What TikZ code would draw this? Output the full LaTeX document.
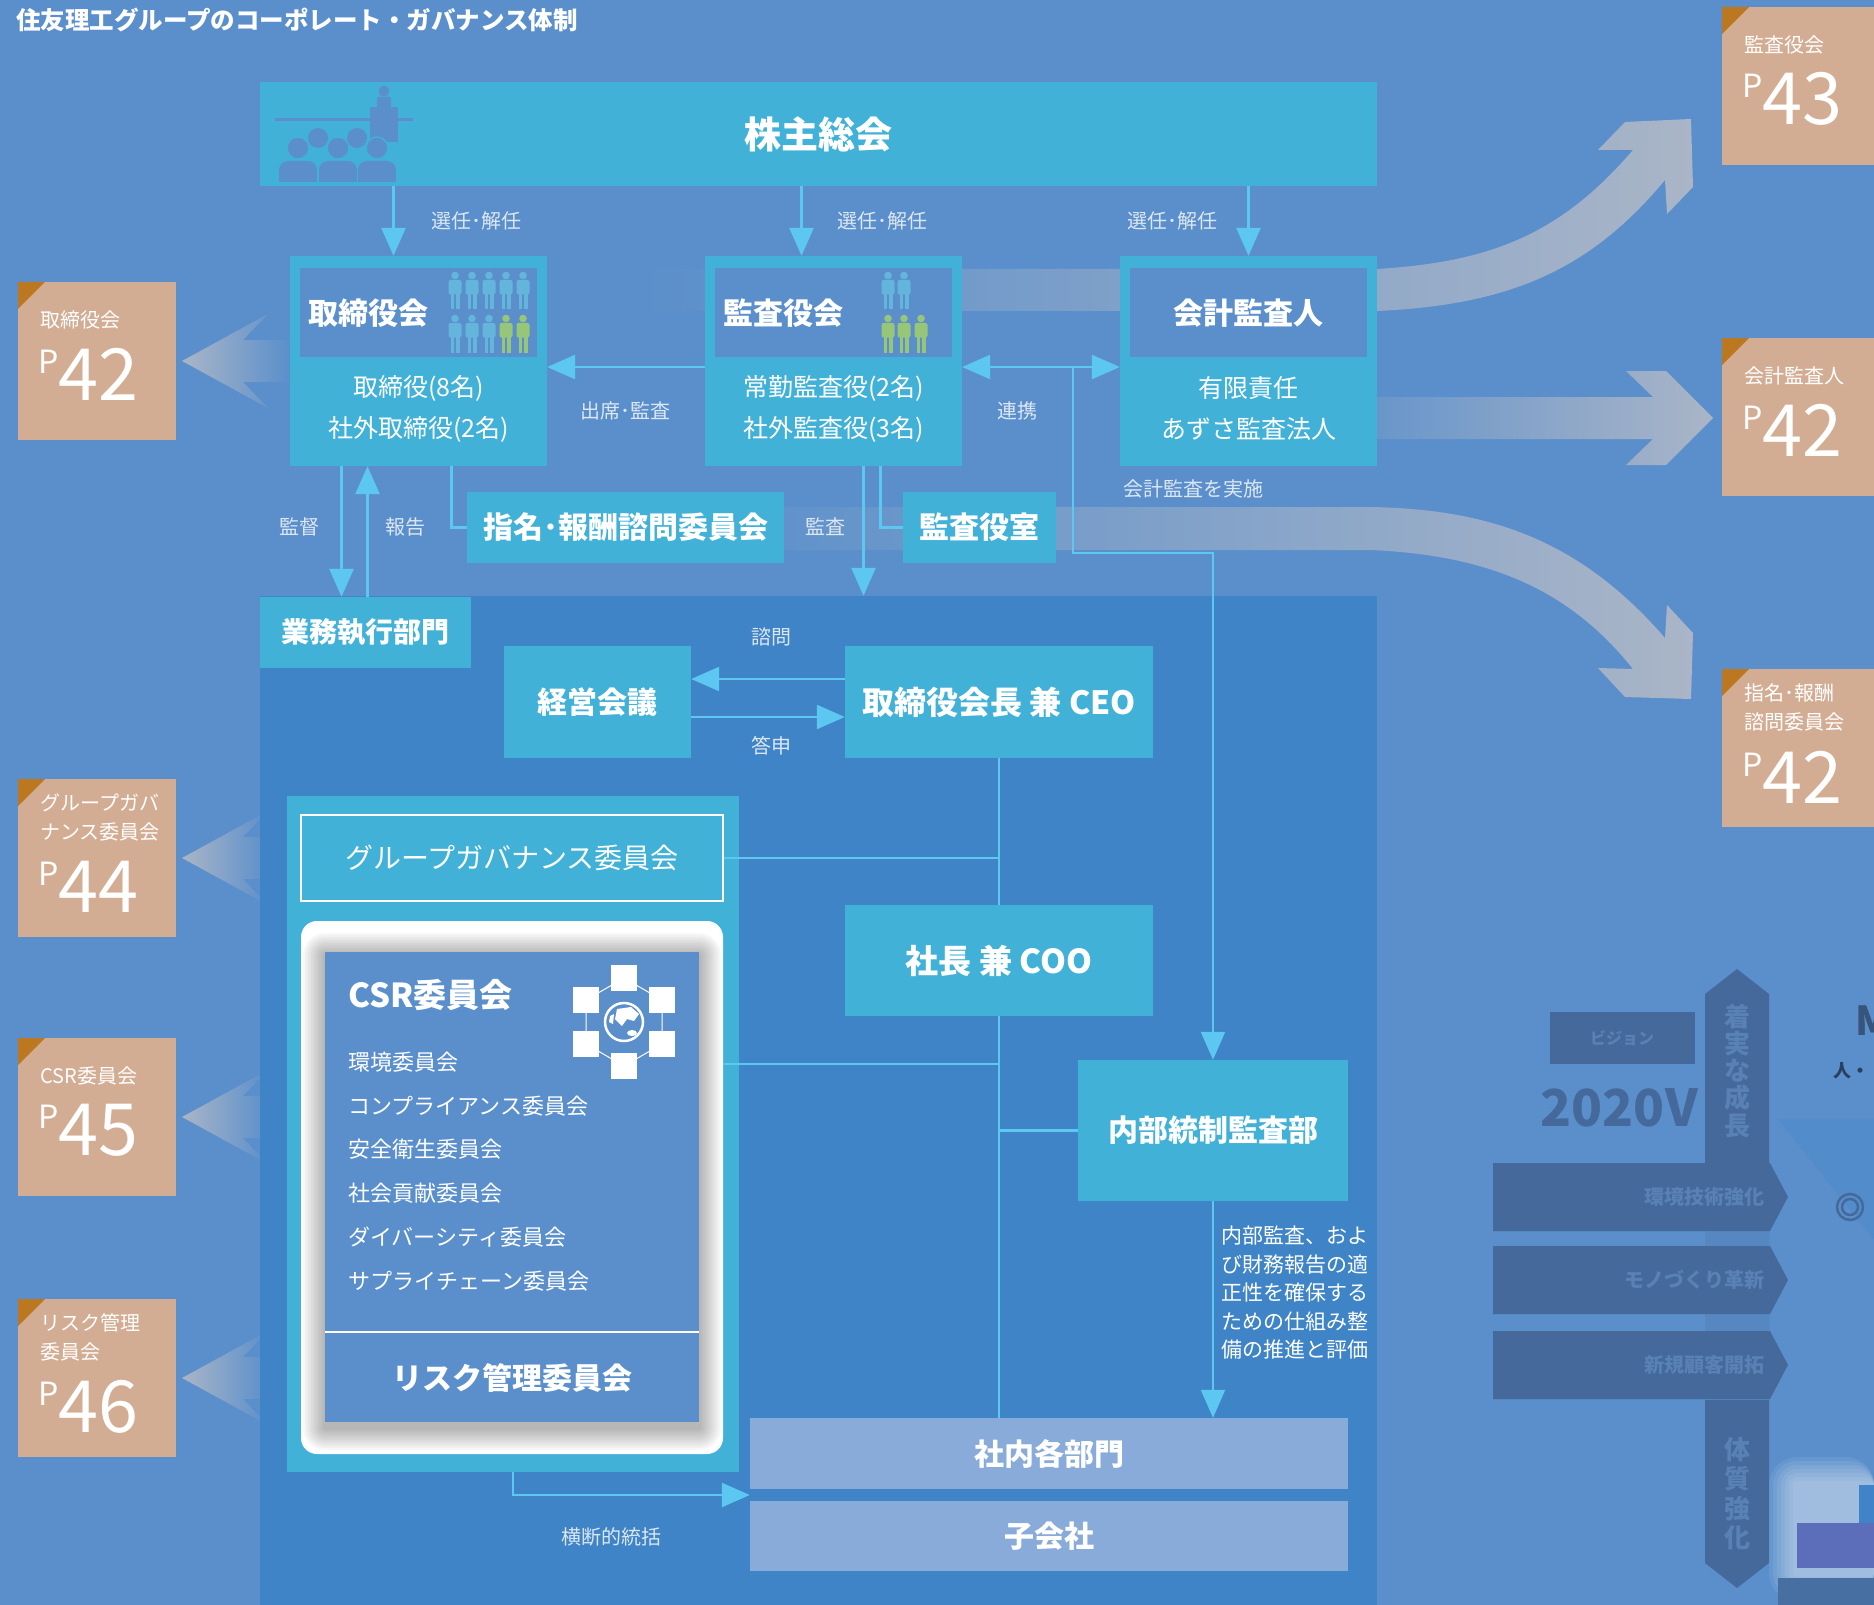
\documentclass[tikz,border=0pt]{standalone}
\usepackage{fontspec}
\setmainfont{Noto Sans CJK JP}
\usetikzlibrary{arrows.meta,calc}
\definecolor{grund}{HTML}{5A8FCB}
\definecolor{tuerkis}{HTML}{41B1D7}
\definecolor{bereich}{HTML}{3E84C6}
\definecolor{linie}{HTML}{5CC8F2}
\definecolor{schrift}{HTML}{DDE7F2}
\definecolor{hell}{HTML}{88ABD9}
\definecolor{sand}{HTML}{D3AD93}
\definecolor{ecke}{HTML}{BB7820}
\definecolor{band}{HTML}{AAB5C7}
\definecolor{figblau}{HTML}{63B5DB}
\definecolor{figgruen}{HTML}{98C679}
\definecolor{matt}{HTML}{45699B}
\definecolor{mattschrift}{HTML}{5A81B4}
\definecolor{lila}{HTML}{5C6EBA}
\newcommand\fsz[1]{\fontsize{#1}{#1}\selectfont}

\begin{document}
\begin{tikzpicture}[x=1pt,y=-1pt,
  box/.style={fill=tuerkis,text=white,inner sep=0pt,font=\fsz{30}\bfseries},
  kopf/.style={fill=grund,minimum width=237pt,minimum height=89pt,inner sep=0pt},
  zeile/.style={text=white,inner sep=0pt,font=\fsz{25}},
  marke/.style={text=schrift,inner sep=0pt,font=\fsz{20}},
  liste/.style={text=white,inner sep=0pt,font=\fsz{22},anchor=west},
  ln/.style={draw=linie,line width=2.5pt},
  arr/.style={ln,-{Triangle[length=28pt,width=24pt]}},
  arr2/.style={ln,{Triangle[length=28pt,width=24pt]}-{Triangle[length=28pt,width=24pt]}},
  refbox/.style={fill=sand,minimum width=158pt,minimum height=158pt,inner sep=0pt},
  reflabel/.style={text=white,inner sep=0pt,anchor=west,align=left,font=\fontsize{20}{29}\selectfont},
  refnum/.style={text=white,inner sep=0pt,anchor=west,font=\fsz{72}},
  mann/.pic={\fill (0,-15) circle (3.8pt);
    \fill[rounded corners=2pt] (-6.5,-10.5) rectangle (6.5,4);
    \fill (-4.5,3) rectangle (-0.7,19); \fill (0.7,3) rectangle (4.5,19);}]
\fill[grund] (0,0) rectangle (1874,1605);
\useasboundingbox (0,0) rectangle (1874,1605);
\node[anchor=west,text=white,inner sep=0pt,font=\fsz{24.5}\bfseries] (titel) at (16,20) {住友理工グループのコーポレート・ガバナンス体制};

% Verweisbaender rechts
\shade[left color=grund,right color=band] (640,269) -- (1377,269) .. controls (1490,262) and (1560,235) .. (1633,150)
  -- (1598,150) -- (1625,122) -- (1691,119) -- (1693,187) -- (1667,214) -- (1665,180)
  .. controls (1590,270) and (1510,305) .. (1377,311) -- (640,311) -- cycle;
\shade[left color=grund,right color=band] (1300,397) -- (1653,397) -- (1626,371) -- (1666,371) -- (1713,418)
  -- (1666,465) -- (1626,465) -- (1653,439) -- (1300,439) -- cycle;
\shade[left color=grund,right color=band] (700,507) -- (1370,507) .. controls (1490,509) and (1580,540) .. (1665,638)
  -- (1667,605) -- (1693,633) -- (1691,699) -- (1625,697) -- (1598,668) -- (1633,669)
  .. controls (1570,590) and (1490,555) .. (1370,550) -- (700,550) -- cycle;
% Pfeile links
\foreach \cy/\xe in {361/290,858/262,1117/262,1378/262}{
  \shade[left color=band,right color=grund] (182,\cy) -- (268,{\cy-47}) -- (243,{\cy-21}) -- (\xe,{\cy-21})
    -- (\xe,{\cy+21}) -- (243,{\cy+21}) -- (268,{\cy+47}) -- cycle;}

% Bereich Geschaeftsfuehrung
\node[fill=bereich,minimum width=1117pt,minimum height=1009pt,inner sep=0pt] (shikko) at (818.5,1100.5) {};

% Hauptversammlung
\node[box,font=\fsz{37}\bfseries,minimum width=1117pt,minimum height=104pt] (soka) at (818.5,134) {株主総会};
\draw[grund,line width=3pt] (275,120) -- (413,120);
\fill[grund] (370,107) rectangle (398,142);
\fill[grund] (384,91) circle (5.5pt); \fill[grund,rounded corners=2pt] (377,97) rectangle (391,110);
\foreach \cx in {318,357}{\fill[grund] (\cx,138) circle (10pt);}
\foreach \cx in {298,338,377}{
  \fill[grund,draw=tuerkis,line width=1.5pt] (\cx,148) circle (11pt);
  \fill[grund,rounded corners=9pt] ({\cx-19},161) rectangle ({\cx+19},180);
  \fill[grund] ({\cx-19},172) rectangle ({\cx+19},182);}

% Organe
\node[box,minimum width=257pt,minimum height=210pt] (torikai) at (418.5,361) {};
\node[kopf] (tkopf) at (418.5,312.5) {};
\node[box,fill=none,anchor=west] (tname) at (308,313) {取締役会};
\foreach \cx [count=\i] in {455,472,489,506,523}{
  \pic[figblau] at (\cx,290.5) {mann};
  \ifnum\i<4 \pic[figblau] at (\cx,333.5) {mann}; \else \pic[figgruen] at (\cx,333.5) {mann}; \fi}
\node[zeile] (t1) at (418.5,388) {取締役(8名)};
\node[zeile] (t2) at (418.5,429) {社外取締役(2名)};

\node[box,minimum width=257pt,minimum height=210pt] (kansa) at (833.5,361) {};
\node[kopf] (kkopf) at (833.5,312.5) {};
\node[box,fill=none,anchor=west] (kname) at (723,313) {監査役会};
\foreach \cx in {888,904}{\pic[figblau] at (\cx,290.5) {mann};}
\foreach \cx in {888,904,921}{\pic[figgruen] at (\cx,333.5) {mann};}
\node[zeile] (k1) at (833.5,388) {常勤監査役(2名)};
\node[zeile] (k2) at (833.5,429) {社外監査役(3名)};

\node[box,minimum width=257pt,minimum height=210pt] (kaikei) at (1248.5,361) {};
\node[kopf] (akopf) at (1248.5,312.5) {};
\node[box,fill=none] (aname) at (1248.5,313) {会計監査人};
\node[zeile] (a1) at (1248.5,388) {有限責任};
\node[zeile] (a2) at (1248.5,429) {あずさ監査法人};

\node[box,minimum width=317pt,minimum height=71pt] (shimei) at (625.5,527.5) {指名･報酬諮問委員会};
\node[box,minimum width=153pt,minimum height=71pt] (kansashitsu) at (979.5,527.5) {監査役室};

% Geschaeftsfuehrung
\node[box,font=\fsz{28}\bfseries,minimum width=211pt,minimum height=71pt] (gyomu) at (365.5,632.5) {業務執行部門};
\node[box,minimum width=187pt,minimum height=112pt] (keiei) at (597.5,702) {経営会議};
\node[box,font=\fsz{32}\bfseries,minimum width=308pt,minimum height=112pt] (ceo) at (999,702) {取締役会長 兼 CEO};
\node[box,font=\fsz{33}\bfseries,minimum width=308pt,minimum height=111pt] (coo) at (999,960.5) {社長 兼 COO};
\node[box,minimum width=270pt,minimum height=141pt] (naibu) at (1213,1130.5) {内部統制監査部};
\node[box,fill=hell,minimum width=598pt,minimum height=71pt] (bumon) at (1049,1453.5) {社内各部門};
\node[box,fill=hell,minimum width=598pt,minimum height=70pt] (kogaisha) at (1049,1536) {子会社};

% Ausschuesse
\node[box,minimum width=452pt,minimum height=676pt] (gruppe) at (513,1134) {};
\node[box,draw=white,line width=1.5pt,font=\fsz{28},minimum width=422pt,minimum height=86pt] (gg) at (512,858) {グループガバナンス委員会};
\node[fill=white,rounded corners=16pt,minimum width=422pt,minimum height=533pt,inner sep=0pt] (panel) at (512,1187.5) {};
\begin{scope}
  \clip[rounded corners=16pt] (301,921) rectangle (723,1454);
  \foreach \i in {2,4,...,22}{\fill[black,opacity=.028,rounded corners=\i pt] ({325-\i},{955-\i}) rectangle ({699+\i},{1428+\i});}
\end{scope}
\node[fill=grund,minimum width=374pt,minimum height=470pt,inner sep=0pt] (csr) at (512,1187) {};
\node[anchor=west,text=white,inner sep=0pt,font=\fsz{33}\bfseries] (csrname) at (348,995) {CSR委員会};
\foreach \t [count=\i from 0] in {環境委員会,コンプライアンス委員会,安全衛生委員会,社会貢献委員会,ダイバーシティ委員会,サプライチェーン委員会}{
  \node[liste] (csr\i) at (348,{1062+43.8*\i}) {\t};}
\draw[white,line width=2pt] ([yshift=90pt]csr.south west) -- ([yshift=90pt]csr.south east);
\node[box,fill=none] (risiko) at (512,1378) {リスク管理委員会};
% Weltkugel
\draw[white,line width=1pt] (624,978) -- (662,1000) -- (662,1044) -- (624,1066) -- (586,1044) -- (586,1000) -- cycle;
\foreach \p in {(624,978),(662,1000),(662,1044),(624,1066),(586,1044),(586,1000)}{\fill[white] \p ++(-13,-13) rectangle ++(26,26);}
\fill[grund] (624,1022) circle (21pt);
\draw[white,line width=2.5pt] (624,1022) circle (19pt);
\fill[white] (617,1009) -- (631,1007) -- (639,1014) -- (634,1021) -- (627,1019) -- (622,1026) -- (615,1019) -- cycle;
\fill[white] (610,1016) -- (614,1014) -- (613,1024) -- (609,1022) -- cycle;
\fill[white] (632,1033) ellipse (5pt and 3pt);

% Verbindungen
\draw[arr] ([xshift=-25pt]torikai.north |- soka.south) -- ([xshift=-25pt]torikai.north);
\draw[arr] ([xshift=-32pt]kansa.north |- soka.south) -- ([xshift=-32pt]kansa.north);
\draw[arr] (kaikei.north |- soka.south) -- (kaikei.north);
\draw[arr] ([yshift=-6pt]kansa.west) -- ([yshift=-6pt]torikai.east);
\draw[arr2] ([yshift=-6pt]kansa.east) -- ([yshift=-6pt]kaikei.west);
\coordinate (renkei) at (1073,367);
\coordinate (knick) at (1213,553);
\draw[arr] (renkei) |- (knick) -- (naibu.north);
\draw[arr] ([xshift=-77pt]torikai.south) -- ([xshift=-77pt]torikai.south |- gyomu.north);
\draw[arr] ([xshift=-51pt]torikai.south |- gyomu.north) -- ([xshift=-51pt]torikai.south);
\draw[ln] ([xshift=33pt]torikai.south) |- (shimei.west);
\draw[arr] ([xshift=30pt]kansa.south) -- ([xshift=30pt]kansa.south |- shikko.north);
\draw[ln] ([xshift=47pt]kansa.south) |- (kansashitsu.west);
\draw[arr] ([yshift=23pt]ceo.west) -- ([yshift=23pt]keiei.east);
\draw[arr] ([yshift=-15pt]keiei.east) -- ([yshift=-15pt]ceo.west);
\draw[ln] (ceo.south) -- (coo.north);
\draw[ln] (coo.south) -- (coo.south |- bumon.north);
\draw[ln] (ceo.south |- gg.east) -- (gg.east);
\draw[ln] (ceo.south |- panel.east) ++(0,-123.5) -- ([yshift=123.5pt]panel.east);
\draw[ln] (ceo.south |- naibu.west) -- (naibu.west);
\draw[arr] (naibu.south) -- (naibu.south |- bumon.north);
\draw[arr] (gruppe.south) |- ($(bumon.south west)!.5!(kogaisha.north west)$);

% Beschriftungen
\foreach \x/\n in {476/s1,882/s2,1172/s3}{\node[marke] (\n) at (\x,221) {選任･解任};}
\node[marke] (shusseki) at (625,411) {出席･監査};
\node[marke] (renkeiL) at (1017,411) {連携};
\node[marke] (kantoku) at (299,527) {監督};
\node[marke] (hokoku) at (405,527) {報告};
\node[marke] (kansaL) at (825,527) {監査};
\node[marke,anchor=west] (jisshi) at (1123,489) {会計監査を実施};
\node[marke] (shimon) at (771,637) {諮問};
\node[marke] (toshin) at (771,746) {答申};
\node[marke] (odan) at (611,1537) {横断的統括};
\node[marke,text=white,anchor=north west,align=left,font=\fontsize{21}{28.5}\selectfont] (beschr) at (1221,1226)
  {内部監査、およ\\び財務報告の適\\正性を確保する\\ための仕組み整\\備の推進と評価};

% Seitenverweise
\foreach \nm/\bx/\by/\lab/\num/\dy in {rtk/18/282/取締役会/42/92, rgg/18/779/{グループガバ\\ナンス委員会}/44/108,
    rcsr/18/1038/CSR委員会/45/92, rrisk/18/1299/{リスク管理\\委員会}/46/108, rka/1722/7/監査役会/43/92,
    rkk/1722/338/会計監査人/42/92, rsh/1722/669/{指名･報酬\\諮問委員会}/42/108}{
  \node[refbox,anchor=north west] (\nm) at (\bx,\by) {};
  \fill[ecke] (\nm.north west) -- ++(27,0) -- ++(-27,27) -- cycle;
  \node[reflabel] at ([shift={(22,38)}]\nm.north west) {\lab};
  \node[refnum] at ([shift={(20,\dy)}]\nm.north west) {\raisebox{27pt}{\fsz{32}P}\num};}

% Hintergrund rechts unten
\fill[matt] (1737,969) -- (1769,994) -- (1769,1563) -- (1737,1588) -- (1705,1563) -- (1705,994) -- cycle;
\fill[grund!80!matt] (1705,1163) rectangle (1769,1400);
\foreach \y/\t in {1197/環境技術強化,1280/モノづくり革新,1365/新規顧客開拓}{
  \fill[matt] (1493,{\y-34}) -- (1770,{\y-34}) -- (1788,\y) -- (1770,{\y+34}) -- (1493,{\y+34}) -- cycle;
  \node[anchor=east,text=mattschrift,inner sep=0pt,font=\fsz{20}\bfseries] at (1765,\y) {\t};}
\foreach \t/\y in {着/1017,実/1044,な/1071,成/1098,長/1126,体/1450,質/1479,強/1509,化/1538}{
  \node[text=mattschrift,inner sep=0pt,font=\fsz{26}\bfseries] at (1737,\y) {\t};}
\fill[matt] (1550,1012) rectangle (1695,1064);
\node[text=mattschrift,inner sep=0pt,font=\fsz{16}\bfseries] at (1622,1038) {ビジョン};
\node[anchor=east,text=matt,inner sep=0pt,font=\fsz{51}\bfseries] at (1698,1108) {2020V};
\fill[grund!75!bereich] (1778,1119) -- (1874,1119) -- (1874,1240) -- cycle;
\draw[matt,line width=2.5pt] (1850,1207) circle (13pt) (1850,1207) circle (8pt);
\node[anchor=west,text=matt!80!black,inner sep=0pt,font=\fsz{40}\bfseries] at (1855,1021) {M};
\node[anchor=west,text=matt!60!black,inner sep=0pt,font=\fsz{18}\bfseries] at (1833,1071) {人・};
\foreach \i in {4,8,...,28}{\fill[white,opacity=.08,rounded corners=\i pt] ({1797-\i},{1485-\i}) rectangle (1874,{1573+\i});}
\fill[bereich] (1859,1485) rectangle (1874,1523);
\fill[lila] (1797,1523) rectangle (1874,1568);
\fill[matt!85!grund] (1778,1578) rectangle (1874,1605);
\end{tikzpicture}
\end{document}
